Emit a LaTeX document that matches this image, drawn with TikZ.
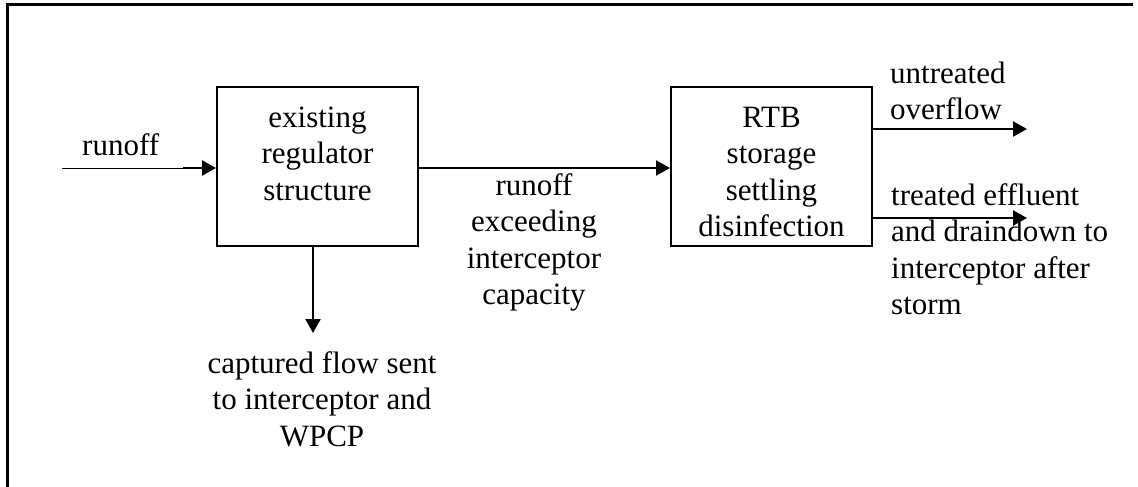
\documentclass[tikz,border=0pt]{standalone}
\usepackage{fontspec}
\setmainfont{Liberation Serif}
\usetikzlibrary{arrows.meta}
\begin{document}
\begin{tikzpicture}[x=1pt,y=-1pt,
  box/.style={draw, line width=2pt, minimum width=201pt, minimum height=159pt, inner sep=0pt},
  txt/.style={font=\fontsize{31}{36.5}\selectfont, inner sep=0pt, align=center, anchor=north},
  ltxt/.style={font=\fontsize{31}{36.5}\selectfont, inner sep=0pt, align=left, anchor=north west},
  arr/.style={line width=2.5pt, -{Triangle[length=14pt,width=15pt]}},
  thinline/.style={line width=1pt},
  frame/.style={line width=3pt}]
\useasboundingbox (0,0) rectangle (1138,487);
% outer frame (top and left edges visible)
\coordinate (f0) at (7,488);
\coordinate (f1) at (7,5);
\coordinate (f2) at (1133,5);
\draw[frame] (f0) -- (f1) -- (f2);
% boxes
\node[box] (reg) at (317.5,166.5) {};
\node[box] (rtb) at (771.5,166.5) {};
\node[txt] (regtxt) at (317.5,101.5) {\strut existing\\regulator\\structure};
\node[txt] (rtbtxt) at (771.5,101.5) {\strut RTB\\storage\\settling\\disinfection};
% input
\coordinate (in0) at (62,168);
\coordinate (in1) at (183,168);
\draw[thinline] (in0) -- (in1);
\draw[arr] (in1) -- (in1 -| reg.west);
\node[font=\fontsize{31}{36.5}\selectfont, inner sep=0pt, anchor=base west] (runoff) at (82,155) {runoff};
% middle
\coordinate (m) at (0,168);
\draw[arr] (m -| reg.east) -- (m -| rtb.west);
\node[txt] (midtxt) at (534,169.5) {\strut runoff\\exceeding\\interceptor\\capacity};
% down
\coordinate (c) at (313,333);
\draw[arr] (c |- reg.south) -- (c);
\node[txt] (captxt) at (322,347.5) {\strut captured flow sent\\to interceptor and\\WPCP};
% outputs
\coordinate (u) at (1027,129);
\draw[arr] (u -| rtb.east) -- (u);
\node[ltxt] (untxt) at (890,57.5) {\strut untreated\\overflow};
\coordinate (t) at (1027,218);
\draw[arr] (t -| rtb.east) -- (t);
\node[ltxt] (trtxt) at (891,179.5) {\strut treated effluent\\and draindown to\\interceptor after\\storm};
\end{tikzpicture}
\end{document}
